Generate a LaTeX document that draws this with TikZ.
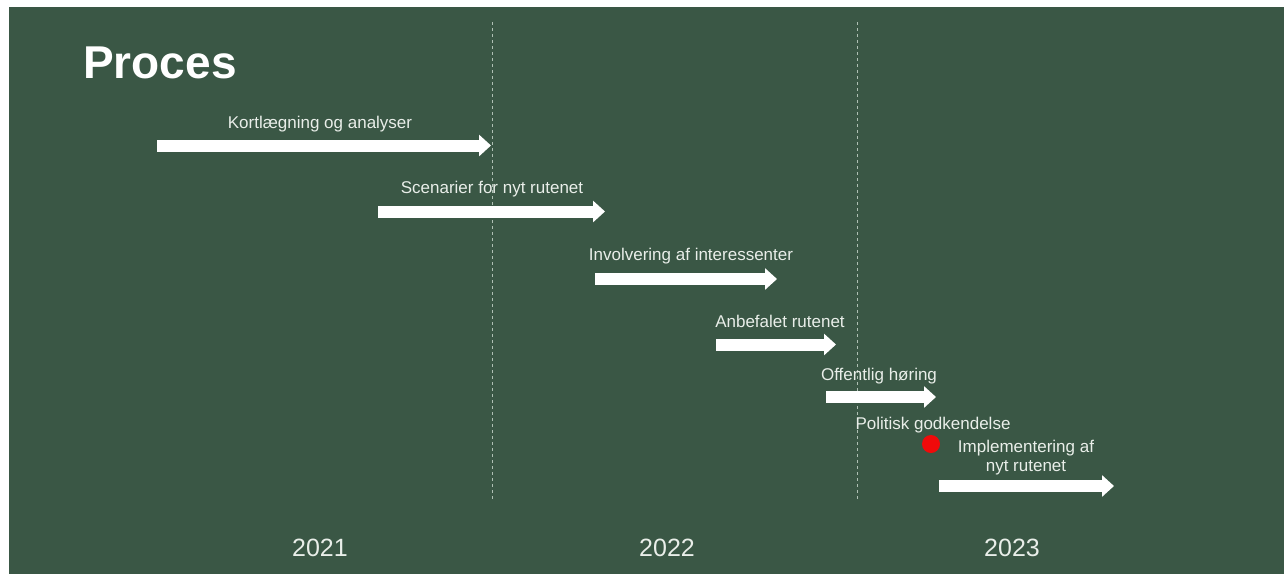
\documentclass[tikz,border=0pt]{standalone}
\usepackage{fontspec}
\setmainfont{Liberation Sans}
\usetikzlibrary{arrows.meta}
\definecolor{boardgreen}{HTML}{3A5745}
\definecolor{labeltext}{HTML}{E9EEE9}
\definecolor{gridline}{HTML}{AFC0B4}
\definecolor{milestone}{HTML}{F00A0A}
\tikzset{
  phasearrow/.style={draw=white, line width=12pt,
    -{Triangle[width=21pt,length=12pt]}},
  phaselabel/.style={anchor=base, text=labeltext, font=\fontsize{17}{20}\selectfont, inner sep=0pt},
  yearlabel/.style={anchor=base, text=labeltext, font=\fontsize{25}{28}\selectfont, inner sep=0pt},
  yeardivider/.style={draw=gridline, line width=0.8pt, dash pattern=on 3pt off 3pt},
}
\begin{document}
\begin{tikzpicture}[x=1pt,y=-1pt]
  \useasboundingbox (0,0) rectangle (1284,574);
  \fill[white] (0,0) rectangle (1284,574);
  \fill[boardgreen] (9,7) rectangle (1284,574);

  % title
  \node[anchor=base west, text=white, inner sep=0pt,
        font=\fontsize{46}{50}\selectfont\bfseries] (title) at (83,78) {Proces};

  % year dividers
  \coordinate (d1top) at (492,22);  \coordinate (d1bot) at (492,500);
  \coordinate (d2top) at (857,22);  \coordinate (d2bot) at (857,500);
  \draw[yeardivider] (d1top) -- (d1bot);
  \draw[yeardivider] (d2top) -- (d2bot);

  % phase arrows
  \coordinate (a1s) at (157,145.5); \coordinate (a1e) at (491,145.5);
  \coordinate (a2s) at (378,211.5); \coordinate (a2e) at (605,211.5);
  \coordinate (a3s) at (595,279);   \coordinate (a3e) at (777,279);
  \coordinate (a4s) at (716,344.5); \coordinate (a4e) at (836,344.5);
  \coordinate (a5s) at (826,397);   \coordinate (a5e) at (936,397);
  \coordinate (a6s) at (939,486);   \coordinate (a6e) at (1114,486);
  \draw[phasearrow] (a1s) -- (a1e);
  \draw[phasearrow] (a2s) -- (a2e);
  \draw[phasearrow] (a3s) -- (a3e);
  \draw[phasearrow] (a4s) -- (a4e);
  \draw[phasearrow] (a5s) -- (a5e);
  \draw[phasearrow] (a6s) -- (a6e);

  % phase labels
  \node[phaselabel] (l1) at (320,128) {Kortlægning og analyser};
  \node[phaselabel] (l2) at (492,193) {Scenarier for nyt rutenet};
  \node[phaselabel] (l3) at (691,260) {Involvering af interessenter};
  \node[phaselabel] (l4) at (780,327) {Anbefalet rutenet};
  \node[phaselabel] (l5) at (879,380) {Offentlig høring};
  \node[phaselabel] (l6) at (933,429) {Politisk godkendelse};
  \node[phaselabel] (l7a) at (1026,452) {Implementering af};
  \node[phaselabel] (l7b) at (1026,471) {nyt rutenet};

  % approval milestone
  \coordinate (approval) at (931,444);
  \fill[milestone] (approval) circle[radius=9pt];

  % years
  \node[yearlabel] (y1) at (320,556) {2021};
  \node[yearlabel] (y2) at (667,556) {2022};
  \node[yearlabel] (y3) at (1012,556) {2023};
\end{tikzpicture}
\end{document}
